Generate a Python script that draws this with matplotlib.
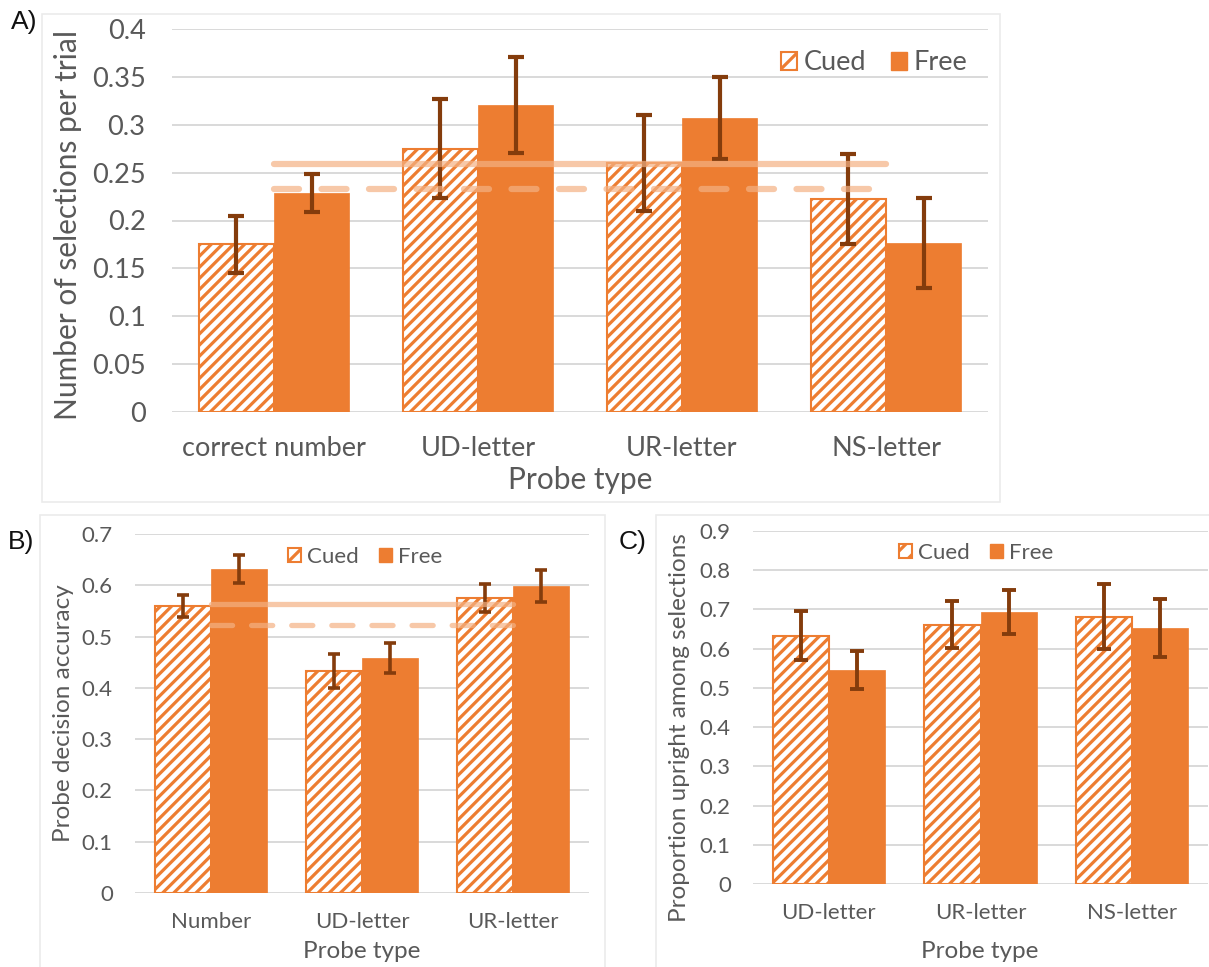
import matplotlib
matplotlib.use("Agg")
import matplotlib.pyplot as plt
from matplotlib.patches import Patch, Rectangle
import numpy as np

plt.rcParams['font.family'] = ['Lato', 'DejaVu Sans']
plt.rcParams['hatch.linewidth'] = 2.3

ORANGE = '#ED7D31'
ERRC = '#843C0C'
REFC = '#F4B183'
GRID = '#d9d9d9'
TXT = '#595959'

# panel A: number of selections per trial
a_cats = ['correct number', 'UD-letter', 'UR-letter', 'NS-letter']
a_cued = [0.175, 0.275, 0.260, 0.222]
a_cued_err = [0.030, 0.052, 0.050, 0.047]
a_free = [0.229, 0.321, 0.307, 0.177]
a_free_err = [0.020, 0.050, 0.043, 0.047]
a_ref_solid = 0.259
a_ref_dash = 0.233

# panel B: probe decision accuracy
b_cats = ['Number', 'UD-letter', 'UR-letter']
b_cued = [0.560, 0.433, 0.575]
b_cued_err = [0.022, 0.033, 0.027]
b_free = [0.632, 0.458, 0.598]
b_free_err = [0.027, 0.029, 0.031]
b_ref_solid = 0.563
b_ref_dash = 0.523

# panel C: proportion upright among selections
c_cats = ['UD-letter', 'UR-letter', 'NS-letter']
c_cued = [0.633, 0.661, 0.681]
c_cued_err = [0.062, 0.060, 0.083]
c_free = [0.546, 0.694, 0.653]
c_free_err = [0.049, 0.056, 0.074]

W, H = 1209, 967
fig = plt.figure(figsize=(W / 100, H / 100), dpi=100)


def px_axes(x0, y0, x1, y1):
    # pixel box (top-left origin) -> figure axes
    return fig.add_axes([x0 / W, 1 - y1 / H, (x1 - x0) / W, (y1 - y0) / H])


def frame(x0, y0, x1, y1):
    fig.patches.append(Rectangle((x0 / W, 1 - y1 / H), (x1 - x0) / W, (y1 - y0) / H,
                                 transform=fig.transFigure, fill=False,
                                 edgecolor='#ebebeb', lw=1.2))


frame(42, 14, 1000, 502)
frame(40, 515, 605, 968)
frame(656, 515, 1210, 968)


def panel(ax, cats, cued, cued_err, free, free_err, ymax, step, tick_fs,
          xpad, ypad, elw, cap):
    x = np.arange(len(cats))
    w = 0.37
    ax.bar(x - w / 2, cued, w, facecolor='white', edgecolor=ORANGE, hatch='///',
           lw=1.5, zorder=2)
    ax.bar(x + w / 2, free, w, color=ORANGE, edgecolor=ORANGE, lw=0.5, zorder=2)
    ax.errorbar(x - w / 2, cued, yerr=cued_err, fmt='none', ecolor=ERRC,
                elinewidth=elw, capsize=cap, capthick=elw, zorder=4)
    ax.errorbar(x + w / 2, free, yerr=free_err, fmt='none', ecolor=ERRC,
                elinewidth=elw, capsize=cap, capthick=elw, zorder=4)
    ax.set_xlim(-0.5, len(cats) - 0.5)
    ax.set_ylim(0, ymax)
    ticks = np.round(np.arange(0, ymax + step / 2, step), 3)
    ax.set_yticks(ticks)
    ax.set_yticklabels([f'{t:g}' for t in ticks])
    ax.set_xticks(x)
    ax.set_xticklabels(cats)
    ax.tick_params(axis='both', length=0, labelsize=tick_fs, colors=TXT)
    ax.tick_params(axis='x', pad=xpad)
    ax.tick_params(axis='y', pad=ypad)
    ax.yaxis.grid(True, color=GRID, lw=1.4)
    ax.set_axisbelow(True)
    for s in ax.spines.values():
        s.set_visible(False)
    return x


def ref_lines(ax, x0, x1, solid, dash, lw):
    ax.plot([x0, x1], [solid, solid], color=REFC, alpha=0.7, lw=lw,
            solid_capstyle='round', zorder=5)
    ax.plot([x0, x1], [dash, dash], color=REFC, alpha=0.7, lw=lw,
            dashes=(4, 3.6), dash_capstyle='round', zorder=5)


def legend(ax, cx, cy, fs):
    handles = [Patch(facecolor='white', edgecolor=ORANGE, hatch='//', lw=1.5),
               Patch(facecolor=ORANGE, edgecolor=ORANGE)]
    lg = ax.legend(handles, ['Cued', 'Free'], ncol=2, frameon=False, loc='center',
                   bbox_to_anchor=(cx / W, 1 - cy / H), bbox_transform=fig.transFigure,
                   fontsize=fs, handlelength=0.6, handleheight=0.6,
                   handletextpad=0.25, columnspacing=0.9)
    for t in lg.get_texts():
        t.set_color(TXT)


# A
axA = px_axes(172, 29, 988, 412)
panel(axA, a_cats, a_cued, a_cued_err, a_free, a_free_err, 0.4, 0.05, 19.5,
      17, 19, 3, 5.5)
ref_lines(axA, 0, 3, a_ref_solid, a_ref_dash, 4.5)
legend(axA, 874, 63, 19.5)
fig.text(68 / W, 1 - 225 / H, 'Number of selections per trial', rotation=90,
         ha='center', va='center', fontsize=21.5, color=TXT)
fig.text(580 / W, 1 - 480 / H, 'Probe type', ha='center', va='center',
         fontsize=21.5, color=TXT)

# B
axB = px_axes(135, 534, 589, 893)
panel(axB, b_cats, b_cued, b_cued_err, b_free, b_free_err, 0.7, 0.1, 16,
      14, 16, 2.6, 4.5)
ref_lines(axB, 0, 2, b_ref_solid, b_ref_dash, 3.8)
legend(axB, 365, 557, 16)
fig.text(63 / W, 1 - 713 / H, 'Probe decision accuracy', rotation=90,
         ha='center', va='center', fontsize=17.5, color=TXT)
fig.text(362 / W, 1 - 952 / H, 'Probe type', ha='center', va='center',
         fontsize=17.5, color=TXT)

# C
axC = px_axes(753, 531, 1208, 884)
panel(axC, c_cats, c_cued, c_cued_err, c_free, c_free_err, 0.9, 0.1, 16,
      14, 16, 2.8, 5)
legend(axC, 976, 553, 16)
fig.text(680 / W, 1 - 728 / H, 'Proportion upright among selections', rotation=90,
         ha='center', va='center', fontsize=17.5, color=TXT)
fig.text(980 / W, 1 - 952 / H, 'Probe type', ha='center', va='center',
         fontsize=17.5, color=TXT)

# panel letters
for lbl, px, py in [('A)', 11, 22), ('B)', 8, 542), ('C)', 619, 542)]:
    fig.text(px / W, 1 - py / H, lbl, ha='left', va='center', fontsize=19,
             family=['Liberation Sans', 'DejaVu Sans'], color='#111111')

fig.savefig('out.png', dpi=100, facecolor='white')
